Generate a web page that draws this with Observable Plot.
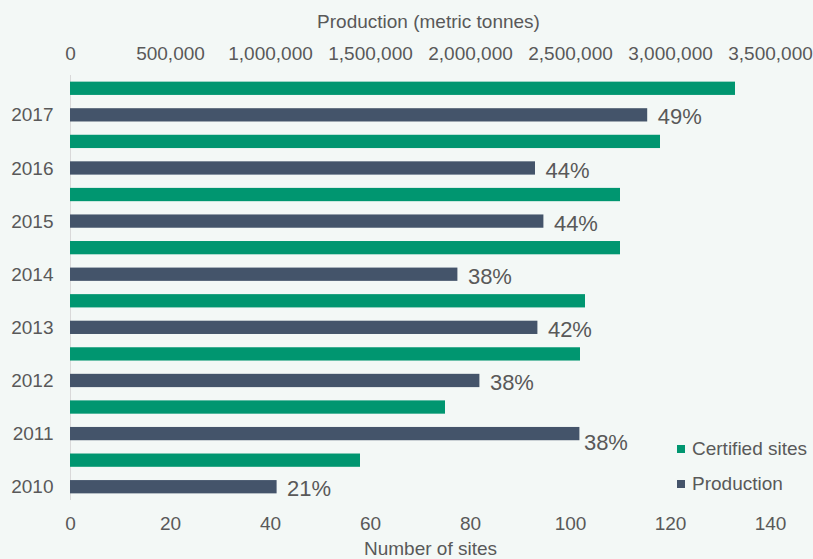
<!DOCTYPE html>
<html>
<head>
<meta charset="utf-8">
<script src="https://cdn.jsdelivr.net/npm/d3@7"></script>
<script src="https://cdn.jsdelivr.net/npm/@observablehq/plot@0.6"></script>
<style>
  html, body { margin: 0; padding: 0; background: #f3f8f6; overflow: hidden; }
  #wrap { position: relative; width: 813px; height: 559px; background: #f3f8f6; font-family: "Liberation Sans", Arial, sans-serif; color: #595959; }
  #wrap svg { display: block; }
  #legend { position: absolute; left: 677px; top: 431px; font-size: 19px; line-height: 35px; }
  #legend .item { display: flex; align-items: center; white-space: nowrap; }
  #legend .sw { width: 8px; height: 8px; margin-right: 7px; display: inline-block; }
</style>
</head>
<body>
<div id="wrap"></div>
<script>
// ---- data ----
const years = ["2017", "2016", "2015", "2014", "2013", "2012", "2011", "2010"];
const certifiedSites = [133, 118, 110, 110, 103, 102, 75, 58];
const productionTonnes = [2886000, 2325000, 2367000, 1937000, 2337000, 2047000, 2547000, 1033000];
const shareLabels = ["49%", "44%", "44%", "38%", "42%", "38%", "38%", "21%"];
const siteTicks = [0, 20, 40, 60, 80, 100, 120, 140];
const tonneTicks = [0, 500000, 1000000, 1500000, 2000000, 2500000, 3000000, 3500000];
const seriesNames = ["Certified sites", "Production"];
const seriesColors = ["#009670", "#44546a"];

// the two axes share one frame: 140 sites spans the same width as 3,500,000 t
const TONNES_PER_SITE = 3500000 / 140;

const certRows = years.map((y, i) => ({key: y + "|C", year: y, sites: certifiedSites[i]}));
const prodRows = years.map((y, i) => ({key: y + "|P", year: y, tonnes: productionTonnes[i], label: shareLabels[i]}));
const yDomain = years.flatMap(y => [y + "|C", y + "|P"]);
const prodKeys = prodRows.map(d => d.key);
const fmt = d3.format(",");

const chart = Plot.plot({
  width: 813,
  height: 559,
  marginLeft: 70,
  marginRight: 43,
  marginTop: 75,
  marginBottom: 59,
  style: {background: "transparent", fontFamily: "'Liberation Sans', Arial, sans-serif", fontSize: "19px", color: "#595959", overflow: "visible"},
  x: {domain: [0, 140], label: null},
  y: {domain: yDomain, paddingInner: 0.5, paddingOuter: 0.25, round: false, label: null},
  marks: [
    Plot.ruleX([0], {stroke: "#d9d9d9", strokeWidth: 1}),
    Plot.barX(certRows, {x: "sites", y: "key", fill: seriesColors[0]}),
    Plot.barX(prodRows, {x: d => d.tonnes / TONNES_PER_SITE, y: "key", fill: seriesColors[1]}),
    Plot.text(prodRows.filter(d => d.year !== "2011"), {x: d => d.tonnes / TONNES_PER_SITE, y: "key", text: "label", textAnchor: "start", dx: 10, dy: 2, fontSize: 22, fill: "#595959"}),
    Plot.text(prodRows.filter(d => d.year === "2011"), {x: d => d.tonnes / TONNES_PER_SITE, y: "key", text: "label", textAnchor: "start", dx: 4, dy: 9, fontSize: 22, fill: "#595959"}),
    Plot.axisY({ticks: prodKeys, tickFormat: d => d.split("|")[0], tickSize: 0, tickPadding: 17, fontSize: 19}),
    Plot.axisX({anchor: "bottom", ticks: siteTicks, tickSize: 0, tickPadding: 16, fontSize: 19, label: null}),
    Plot.axisX({anchor: "top", ticks: tonneTicks.map(t => t / TONNES_PER_SITE), tickFormat: d => fmt(Math.round(d * TONNES_PER_SITE)), tickSize: 0, tickPadding: 16, fontSize: 19, label: null}),
    Plot.text(["Number of sites"], {frameAnchor: "bottom", lineAnchor: "middle", text: d => d, dy: 48, dx: 10, fontSize: 19, fill: "#595959"}),
    Plot.text(["Production (metric tonnes)"], {frameAnchor: "top", lineAnchor: "middle", text: d => d, dy: -54, dx: 8, fontSize: 19, fill: "#595959"})
  ]
});

const wrap = document.getElementById("wrap");
wrap.appendChild(chart);

const legend = document.createElement("div");
legend.id = "legend";
seriesNames.forEach((name, i) => {
  const item = document.createElement("div");
  item.className = "item";
  const sw = document.createElement("span");
  sw.className = "sw";
  sw.style.background = seriesColors[i];
  item.appendChild(sw);
  item.appendChild(document.createTextNode(name));
  legend.appendChild(item);
});
wrap.appendChild(legend);
</script>
</body>
</html>
